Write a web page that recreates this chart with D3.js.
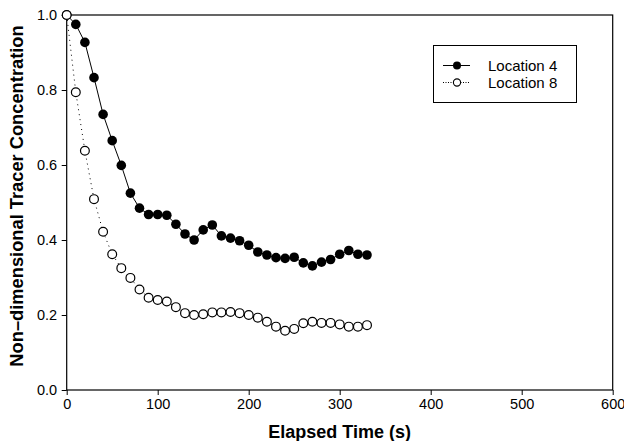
<!DOCTYPE html>
<html>
<head>
<meta charset="utf-8">
<script src="https://cdn.jsdelivr.net/npm/d3@7"></script>
<style>
  body { margin: 0; background: #fff; }
  svg { display: block; font-family: "Liberation Sans", Arial, sans-serif; }
</style>
</head>
<body>
<svg id="chart" width="624" height="441"></svg>
<script>
const times = [0,10,20,30,40,50,60,70,80,90,100,110,120,130,140,150,160,170,180,190,200,210,220,230,240,250,260,270,280,290,300,310,320,330];
const loc4 = [1.0,0.975,0.927,0.833,0.735,0.665,0.599,0.525,0.485,0.468,0.468,0.466,0.442,0.416,0.400,0.427,0.440,0.411,0.405,0.398,0.386,0.368,0.360,0.353,0.351,0.354,0.339,0.331,0.341,0.348,0.362,0.372,0.362,0.360];
const loc8 = [1.0,0.794,0.638,0.509,0.422,0.362,0.325,0.299,0.268,0.246,0.240,0.236,0.221,0.205,0.200,0.202,0.207,0.207,0.208,0.205,0.200,0.193,0.182,0.169,0.158,0.163,0.178,0.182,0.179,0.179,0.175,0.169,0.169,0.173];
const xTicks = [0,100,200,300,400,500,600];
const yTicks = [0,0.2,0.4,0.6,0.8,1.0];
const seriesNames = ["Location 4", "Location 8"];

const margin = {left: 66.7, right: 11.3, top: 15, bottom: 51};
const W = 624, H = 441;
const svg = d3.select("#chart");

const x = d3.scaleLinear().domain([0, 600]).range([margin.left, W - margin.right]);
const y = d3.scaleLinear().domain([0, 1]).range([H - margin.bottom, margin.top]);

// frame
svg.append("rect")
  .attr("x", x(0)).attr("y", y(1))
  .attr("width", x(600) - x(0)).attr("height", y(0) - y(1))
  .attr("fill", "none").attr("stroke", "#000").attr("stroke-width", 1.2);

const xAxis = svg.append("g")
  .attr("transform", `translate(0,${y(0)})`)
  .call(d3.axisBottom(x).tickValues(xTicks).tickFormat(d3.format("d")).tickSize(5).tickPadding(4));
const yAxis = svg.append("g")
  .attr("transform", `translate(${x(0)},0)`)
  .call(d3.axisLeft(y).tickValues(yTicks).tickFormat(d3.format(".1f")).tickSize(5).tickPadding(4.5));

[xAxis, yAxis].forEach(g => {
  g.select(".domain").remove();
  g.selectAll("line").attr("stroke", "#000").attr("stroke-width", 1);
  g.selectAll("text").attr("fill", "#000").attr("font-size", 14.5)
    .attr("font-family", "'Liberation Sans', Arial, sans-serif");
});

// axis titles
svg.append("text")
  .attr("x", (x(0) + x(600)) / 2).attr("y", 437.5)
  .attr("text-anchor", "middle").attr("font-weight", "bold").attr("font-size", 18)
  .text("Elapsed Time (s)");
svg.append("text")
  .attr("transform", `translate(23,196) rotate(-90)`)
  .attr("text-anchor", "middle").attr("font-weight", "bold").attr("font-size", 18.3)
  .text("Non–dimensional Tracer Concentration");

const d4 = times.map((t, i) => [t, loc4[i]]);
const d8 = times.map((t, i) => [t, loc8[i]]);
const line = d3.line().x(d => x(d[0])).y(d => y(d[1]));

svg.append("path").datum(d4).attr("d", line)
  .attr("fill", "none").attr("stroke", "#000").attr("stroke-width", 1);
svg.append("path").datum(d8).attr("d", line)
  .attr("fill", "none").attr("stroke", "#000").attr("stroke-width", 1).attr("stroke-dasharray", "1,4");

svg.append("g").selectAll("circle").data(d4).join("circle")
  .attr("cx", d => x(d[0])).attr("cy", d => y(d[1])).attr("r", 4.8)
  .attr("fill", "#000");
svg.append("g").selectAll("circle").data(d8).join("circle")
  .attr("cx", d => x(d[0])).attr("cy", d => y(d[1])).attr("r", 4.4)
  .attr("fill", "#fff").attr("stroke", "#000").attr("stroke-width", 1.2);

// legend
const lg = svg.append("g");
lg.append("rect").attr("x", 433.5).attr("y", 45.5).attr("width", 143).attr("height", 57)
  .attr("fill", "#fff").attr("stroke", "#000").attr("stroke-width", 1);
seriesNames.forEach((name, i) => {
  const ly = 65.5 + i * 17;
  lg.append("line").attr("x1", 443).attr("x2", 470).attr("y1", ly).attr("y2", ly)
    .attr("stroke", "#000").attr("stroke-width", 1)
    .attr("stroke-dasharray", i === 0 ? null : "1,1.5");
  lg.append("circle").attr("cx", 457).attr("cy", ly).attr("r", i === 0 ? 4 : 3.6)
    .attr("fill", i === 0 ? "#000" : "#fff").attr("stroke", "#000").attr("stroke-width", i === 0 ? 0 : 1.1);
  lg.append("text").attr("x", 488).attr("y", ly + 5.5).attr("font-size", 15).text(name);
});
</script>
</body>
</html>
